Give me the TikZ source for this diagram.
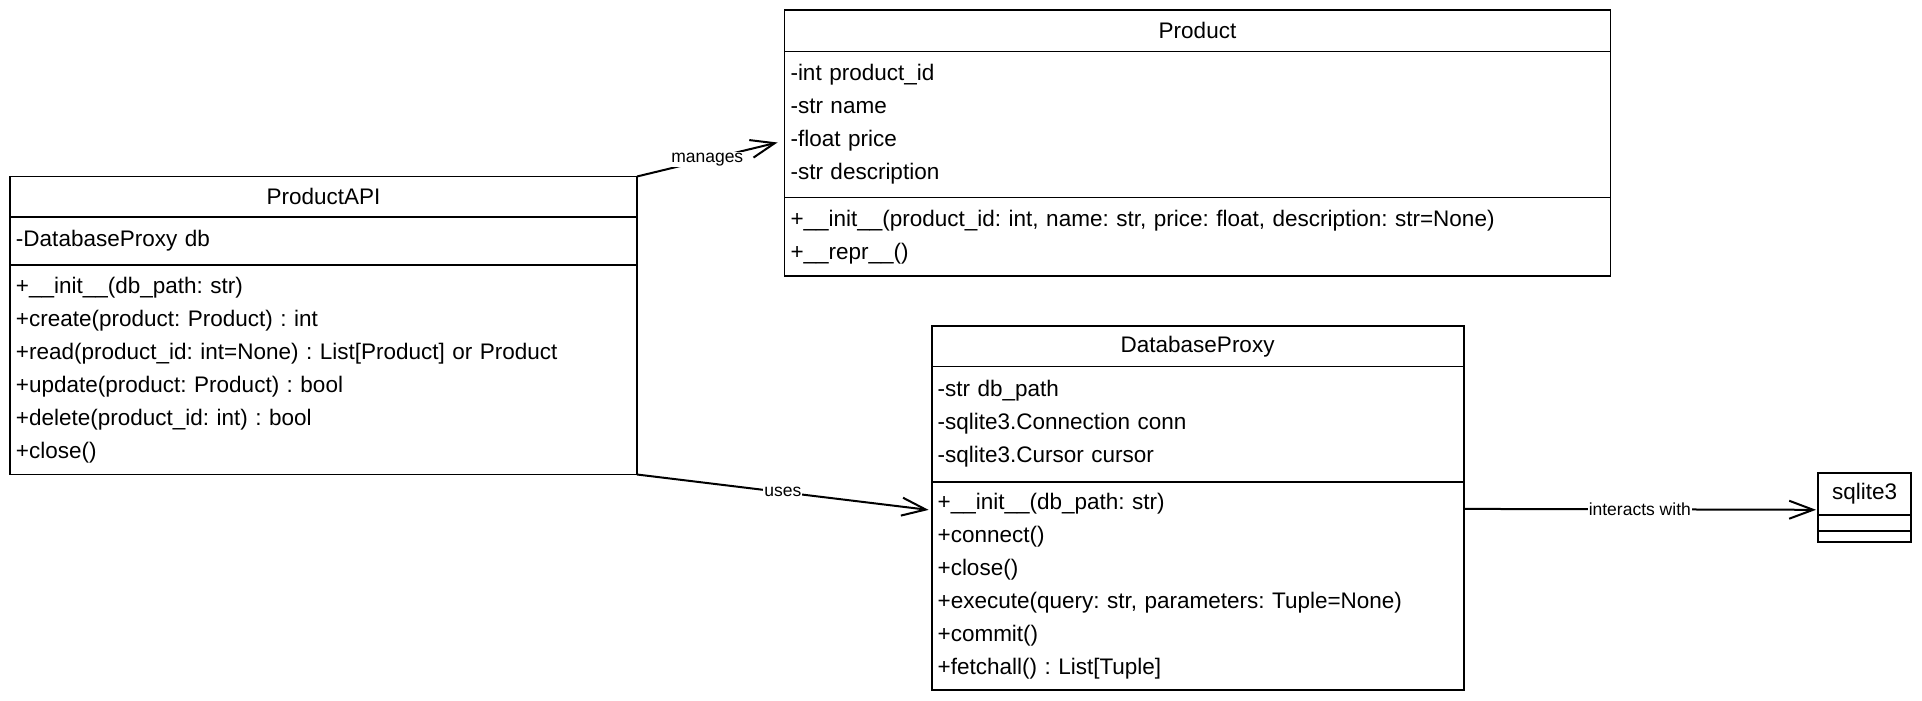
\documentclass[tikz,border=0pt]{standalone}
\usepackage{fontspec}
\setmainfont{Liberation Sans}
\usetikzlibrary{arrows.meta, positioning}
\frenchspacing

\tikzset{
  umlhead/.style={draw, line width=1.8pt, outer sep=0pt, inner xsep=6pt,
                  font=\fontsize{22.5}{33}\selectfont, align=center},
  umlpart/.style={draw, line width=1.8pt, outer sep=0pt, inner xsep=6pt,
                  font=\fontsize{22.5}{33}\selectfont, align=left},
  assoc/.style={line width=2pt,
                -{Straight Barb[length=24pt, width=18pt, line width=2pt]}},
  assoclabel/.style={font=\fontsize{17.5}{19}\selectfont, fill=white, inner sep=1pt},
}

\begin{document}
\begin{tikzpicture}[x=1pt, y=-1pt]
  \useasboundingbox (0,0) rectangle (1922,701);

  % ProductAPI
  \node[umlhead, anchor=north west, text width=615pt, minimum height=40.5pt]
    (ahead) at (10,176.5) {ProductAPI};
  \node[umlpart, text width=615pt, minimum height=48pt, below=0pt of ahead]
    (aattr) {-DatabaseProxy db};
  \node[umlpart, text width=615pt, minimum height=209.5pt, below=0pt of aattr]
    (amet) {+\_\_init\_\_(db\_path: str)\\
            +create(product: Product) : int\\
            +read(product\_id: int=None) : List[Product] or Product\\
            +update(product: Product) : bool\\
            +delete(product\_id: int) : bool\\
            +close()};

  % Product
  \node[umlhead, anchor=north west, text width=814pt, minimum height=41.7pt]
    (phead) at (784.5,9.8) {Product};
  \node[umlpart, text width=814pt, minimum height=146pt, below=0pt of phead]
    (pattr) {-int product\_id\\
             -str name\\
             -float price\\
             -str description};
  \node[umlpart, text width=814pt, minimum height=78.4pt, below=0pt of pattr]
    (pmet) {+\_\_init\_\_(product\_id: int, name: str, price: float, description: str=None)\\
            +\_\_repr\_\_()};

  % DatabaseProxy
  \node[umlhead, anchor=north west, text width=520pt, minimum height=40.5pt]
    (dhead) at (931.6,326) {DatabaseProxy};
  \node[umlpart, text width=520pt, minimum height=115.2pt, below=0pt of dhead]
    (dattr) {-str db\_path\\
             -sqlite3.Connection conn\\
             -sqlite3.Cursor cursor};
  \node[umlpart, text width=520pt, minimum height=208.4pt, below=0pt of dattr]
    (dmet) {+\_\_init\_\_(db\_path: str)\\
            +connect()\\
            +close()\\
            +execute(query: str, parameters: Tuple=None)\\
            +commit()\\
            +fetchall() : List[Tuple]};

  % sqlite3
  \node[umlhead, anchor=north west, text width=81pt, minimum height=41.6pt]
    (shead) at (1818,473.2) {sqlite3};
  \node[umlpart, text width=81pt, minimum height=16pt, below=0pt of shead] (sattr) {};
  \node[umlpart, text width=81pt, minimum height=11pt, below=0pt of sattr] (smet) {};

  % Associations
  \draw[assoc] (ahead.north east) -- ([xshift=-7pt, yshift=-18pt]pattr.west)
    node[assoclabel, midway] {manages};
  \draw[assoc] (amet.south east) -- ([xshift=-3pt, yshift=76pt]dmet.west)
    node[assoclabel, midway] {uses};
  \draw[assoc] ([yshift=77pt]dmet.east) -- ([xshift=-2pt, yshift=5pt]shead.south west)
    node[assoclabel, midway] {interacts with};
\end{tikzpicture}
\end{document}
